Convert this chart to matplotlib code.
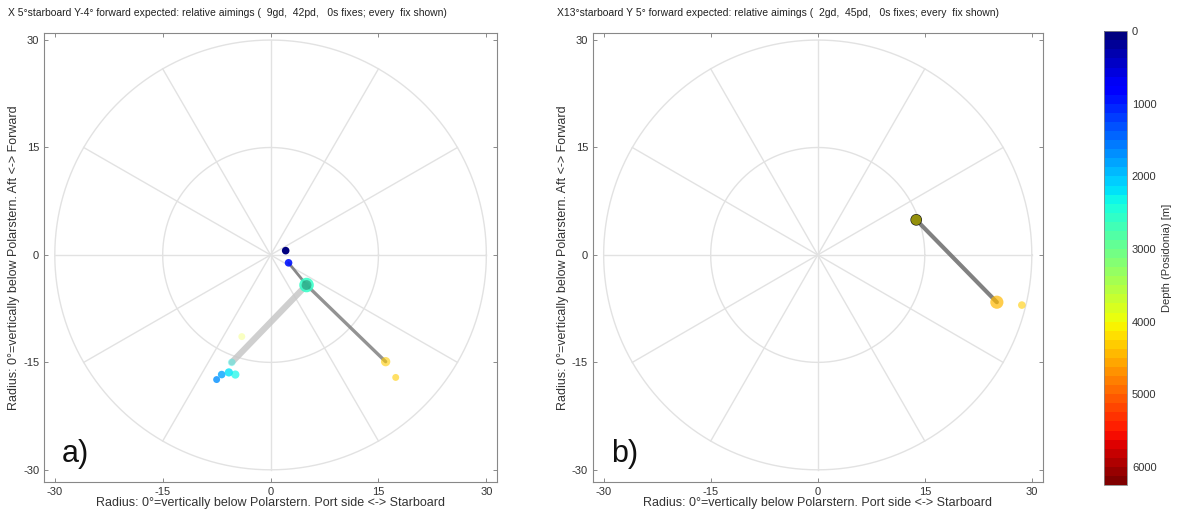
import numpy as np
import matplotlib.pyplot as plt
import matplotlib as mpl

# Fixes (x = port/starboard, y = aft/forward), depth in m
fix_x_a = [2.1, 2.5, 5.0, 16.0, 17.4, -4.0, -7.5, -6.8, -5.8, -4.9, -5.4]
fix_y_a = [0.6, -1.1, -4.2, -14.9, -17.1, -11.4, -17.4, -16.7, -16.4, -16.7, -15.0]
depth_a = [50, 900, 2550, 4350, 4250, 3900, 1650, 1800, 2150, 2250, 2300]
size_a = [30, 30, 110, 45, 25, 25, 25, 30, 35, 35, 30]
alpha_a = [1.0, 0.9, 0.85, 0.6, 0.6, 0.25, 0.8, 0.8, 0.8, 0.7, 0.35]

fix_x_b = [13.8, 25.1, 28.6]
fix_y_b = [4.9, -6.6, -7.0]
depth_b = [4100, 4400, 4300]
size_b = [55, 90, 30]
alpha_b = [0.55, 0.7, 0.6]

# aiming lines (x0, y0, x1, y1, grey level, width)
lines_a = [
    (2.5, -1.1, 5.0, -4.2, 0.45, 2.0),
    (5.0, -4.2, 16.0, -14.9, 0.5, 2.4),
    (5.0, -4.2, -5.4, -15.0, 0.78, 4.5),
]
lines_b = [
    (13.8, 4.9, 25.1, -6.6, 0.42, 3.0),
]

titles = [
    'X 5°starboard Y-4° forward expected: relative aimings (  9gd,  42pd,   0s fixes; every  fix shown)',
    'X13°starboard Y 5° forward expected: relative aimings (  2gd,  45pd,   0s fixes; every  fix shown)',
]
panel_labels = ['a)', 'b)']
ticks = [-30, -15, 0, 15, 30]
cb_ticks = [0, 1000, 2000, 3000, 4000, 5000, 6000]

plt.rcParams['font.family'] = ['Liberation Sans', 'DejaVu Sans']
plt.rcParams['axes.unicode_minus'] = False

fig = plt.figure(figsize=(11.8, 5.18), dpi=100)
ax_a = fig.add_axes([0.0373, 0.0695, 0.384, 0.867])
ax_b = fig.add_axes([0.5025, 0.0695, 0.381, 0.867])
cax = fig.add_axes([0.9356, 0.0637, 0.0195, 0.876])

bounds = np.arange(0, 6251, 125)
cmap = plt.get_cmap('jet', len(bounds) - 1)
norm = mpl.colors.BoundaryNorm(bounds, cmap.N)

theta = np.linspace(0, 2 * np.pi, 361)


def draw_panel(ax, xs, ys, ds, ss, als, segs, title, label):
    grid_c = '#e2e2e2'
    for r in [15, 30]:
        ax.plot(r * np.cos(theta), r * np.sin(theta), color=grid_c, lw=1, zorder=1)
    for ang in np.arange(0, 360, 30):
        a = np.deg2rad(ang)
        ax.plot([0, 30 * np.cos(a)], [0, 30 * np.sin(a)], color=grid_c, lw=1, zorder=1)
    for x0, y0, x1, y1, g, w in segs:
        ax.plot([x0, x1], [y0, y1], color=str(g), lw=w, alpha=0.85,
                solid_capstyle='round', zorder=2)
    for x, y, d, s, al in zip(xs, ys, ds, ss, als):
        ax.scatter(x, y, s=s, color=cmap(norm(d)), alpha=al, edgecolors='none', zorder=3)
    ax.set_xlim(-31.5, 31.5)
    ax.set_ylim(-31.7, 31.0)
    ax.set_xticks(ticks)
    ax.set_yticks(ticks)
    ax.tick_params(direction='in', length=3, width=0.6, labelsize=8,
                   top=True, right=True, colors='#777777', labelcolor='#333333')
    for sp in ax.spines.values():
        sp.set_color('#888888')
        sp.set_linewidth(0.8)
    ax.set_xlabel('Radius: 0°=vertically below Polarstern. Port side <-> Starboard',
                  fontsize=9, color='#333333', labelpad=0)
    ax.set_ylabel('Radius: 0°=vertically below Polarstern. Aft <-> Forward',
                  fontsize=9, color='#333333', labelpad=2)
    ax.set_title(title, fontsize=7.5, color='#222222', loc='left', x=-0.08, pad=12)
    ax.text(0.04, 0.045, label, transform=ax.transAxes, fontsize=22, color='#111111')


draw_panel(ax_a, fix_x_a, fix_y_a, depth_a, size_a, alpha_a, lines_a, titles[0], panel_labels[0])
# dark core under the green fix in a), and the dark first fix in b)
ax_a.scatter(fix_x_a[2], fix_y_a[2], s=50, color='#104030', alpha=0.35, edgecolors='none', zorder=4)
ax_b.scatter(fix_x_b[0], fix_y_b[0], s=70, color='#1a1a1a', edgecolors='none', zorder=2.5)
draw_panel(ax_b, fix_x_b, fix_y_b, depth_b, size_b, alpha_b, lines_b, titles[1], panel_labels[1])

sm = mpl.cm.ScalarMappable(norm=norm, cmap=cmap)
cb = fig.colorbar(sm, cax=cax, ticks=cb_ticks, drawedges=True)
cb.dividers.set_color('#333333')
cb.dividers.set_linewidth(0.3)
cb.dividers.set_alpha(0.25)
cb.outline.set_edgecolor('#888888')
cb.outline.set_linewidth(0.6)
cax.invert_yaxis()
cax.minorticks_off()
cax.tick_params(labelsize=8, length=0, labelcolor='#333333')
cb.set_label('Depth (Posidonia) [m]', fontsize=8, color='#333333')

fig.savefig('out.png', dpi=100)
